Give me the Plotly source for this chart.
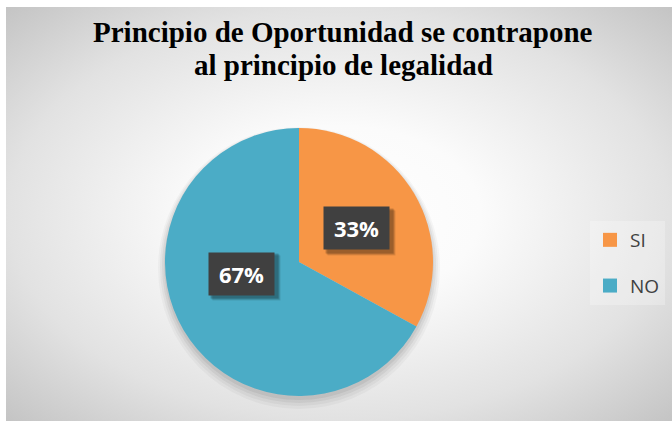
import math
import plotly.graph_objects as go

# ---- data ----
categories = ["SI", "NO"]
values = [33, 67]
colors = ["#F79646", "#4BACC6"]
title_lines = ["Principio de Oportunidad se contrapone", "al principio de legalidad"]

W, H = 672, 421
ML, MT = 6, 7
PW, PH = W - ML, H - MT


def px_x(x):
    return (x - ML) / PW


def px_y(y):
    return (H - y) / PH


# pie geometry (px in page coords)
pcx, pcy, pr = 299, 262, 134
dom_x = [px_x(pcx - pr), px_x(pcx + pr)]
dom_y = [px_y(pcy + pr), px_y(pcy - pr)]

fig = go.Figure()

# radial gradient background (rectangle extended so ellipse reaches corners)
ext = (math.sqrt(2) - 1) / 2
fig.add_trace(go.Scatter(
    x=[-ext, 1 + ext, 1 + ext, -ext, -ext],
    y=[-ext, -ext, 1 + ext, 1 + ext, -ext],
    mode="lines", line=dict(width=0), fill="toself",
    fillgradient=dict(type="radial",
                      colorscale=[[0, "#ffffff"], [0.3, "#fbfbfb"], [0.7, "#e2e2e2"], [1, "#c4c4c4"]]),
    hoverinfo="skip", showlegend=False,
))

# soft shadow under the pie
for grow, shift, alpha in [(7, 6, 0.03), (5, 5, 0.04), (3, 4, 0.05), (1, 3, 0.06)]:
    sx = [px_x(pcx - pr - grow), px_x(pcx + pr + grow)]
    sy = [px_y(pcy + pr + grow + shift), px_y(pcy - pr - grow + shift)]
    fig.add_trace(go.Pie(
        values=[1], labels=["_shadow%d" % grow], marker=dict(colors=["rgba(0,0,0,%g)" % alpha]),
        domain=dict(x=sx, y=sy), textinfo="none", hoverinfo="skip", showlegend=False, sort=False,
    ))

fig.add_trace(go.Pie(
    labels=categories, values=values, marker=dict(colors=colors, line=dict(width=0)),
    domain=dict(x=dom_x, y=dom_y), sort=False, direction="clockwise", rotation=0,
    textinfo="none", showlegend=False,
))

# legend entries via dummy traces (to control spacing)
for c, col in zip(categories, colors):
    fig.add_trace(go.Scatter(
        x=[None], y=[None], mode="markers", name=c, legendgroup=c,
        marker=dict(symbol="square", size=14, color=col, line=dict(width=0)),
    ))

# data labels in dark boxes, positioned at slice mid-angles
total = sum(values)
cum = 0
annotations = []
pcx_p = (dom_x[0] + dom_x[1]) / 2
pcy_p = (dom_y[0] + dom_y[1]) / 2
for v in values:
    mid = (cum + v / 2) / total * 2 * math.pi
    cum += v
    lx = pcx_p + 0.5 * pr * math.sin(mid) / PW
    ly = pcy_p + 0.5 * pr * math.cos(mid) / PH
    txt = "%d%%" % round(v / total * 100)
    for sh, a in [(5, 0.10), (4, 0.14), (3, 0.18)]:
        annotations.append(dict(
            x=lx, y=ly, xref="paper", yref="paper", text=" ", showarrow=False,
            width=65, height=42, bgcolor="rgba(0,0,0,%g)" % a, xshift=sh, yshift=-sh,
            font=dict(size=22),
        ))
    annotations.append(dict(
        x=lx, y=ly, xref="paper", yref="paper", text="<b>%s</b>" % txt, showarrow=False,
        width=65, height=42, bgcolor="#404040", borderpad=0,
        font=dict(family="Open Sans", size=22, color="#ffffff"),
    ))

# title lines
for line, ypx in zip(title_lines, [32, 65]):
    annotations.append(dict(
        x=px_x(343), y=px_y(ypx), xref="paper", yref="paper", xanchor="center", yanchor="middle",
        text="<b>%s</b>" % line, showarrow=False,
        font=dict(family="Liberation Serif", size=29, color="#000000"),
    ))

fig.update_layout(
    width=W, height=H,
    margin=dict(l=ML, r=0, t=MT, b=0),
    paper_bgcolor="#ffffff", plot_bgcolor="rgba(0,0,0,0)",
    xaxis=dict(range=[0, 1], visible=False, fixedrange=True),
    yaxis=dict(range=[0, 1], visible=False, fixedrange=True),
    legend=dict(
        x=px_x(590), xanchor="left", y=px_y(221), yanchor="top",
        bgcolor="rgba(255,255,255,0.25)", borderwidth=0,
        font=dict(family="Open Sans", size=19, color="#404040"),
        tracegroupgap=18, itemwidth=30,
    ),
    annotations=annotations,
    showlegend=True,
)

fig.write_html("out.html", config={"displayModeBar": False},
               post_script="document.body.style.margin='0';")
